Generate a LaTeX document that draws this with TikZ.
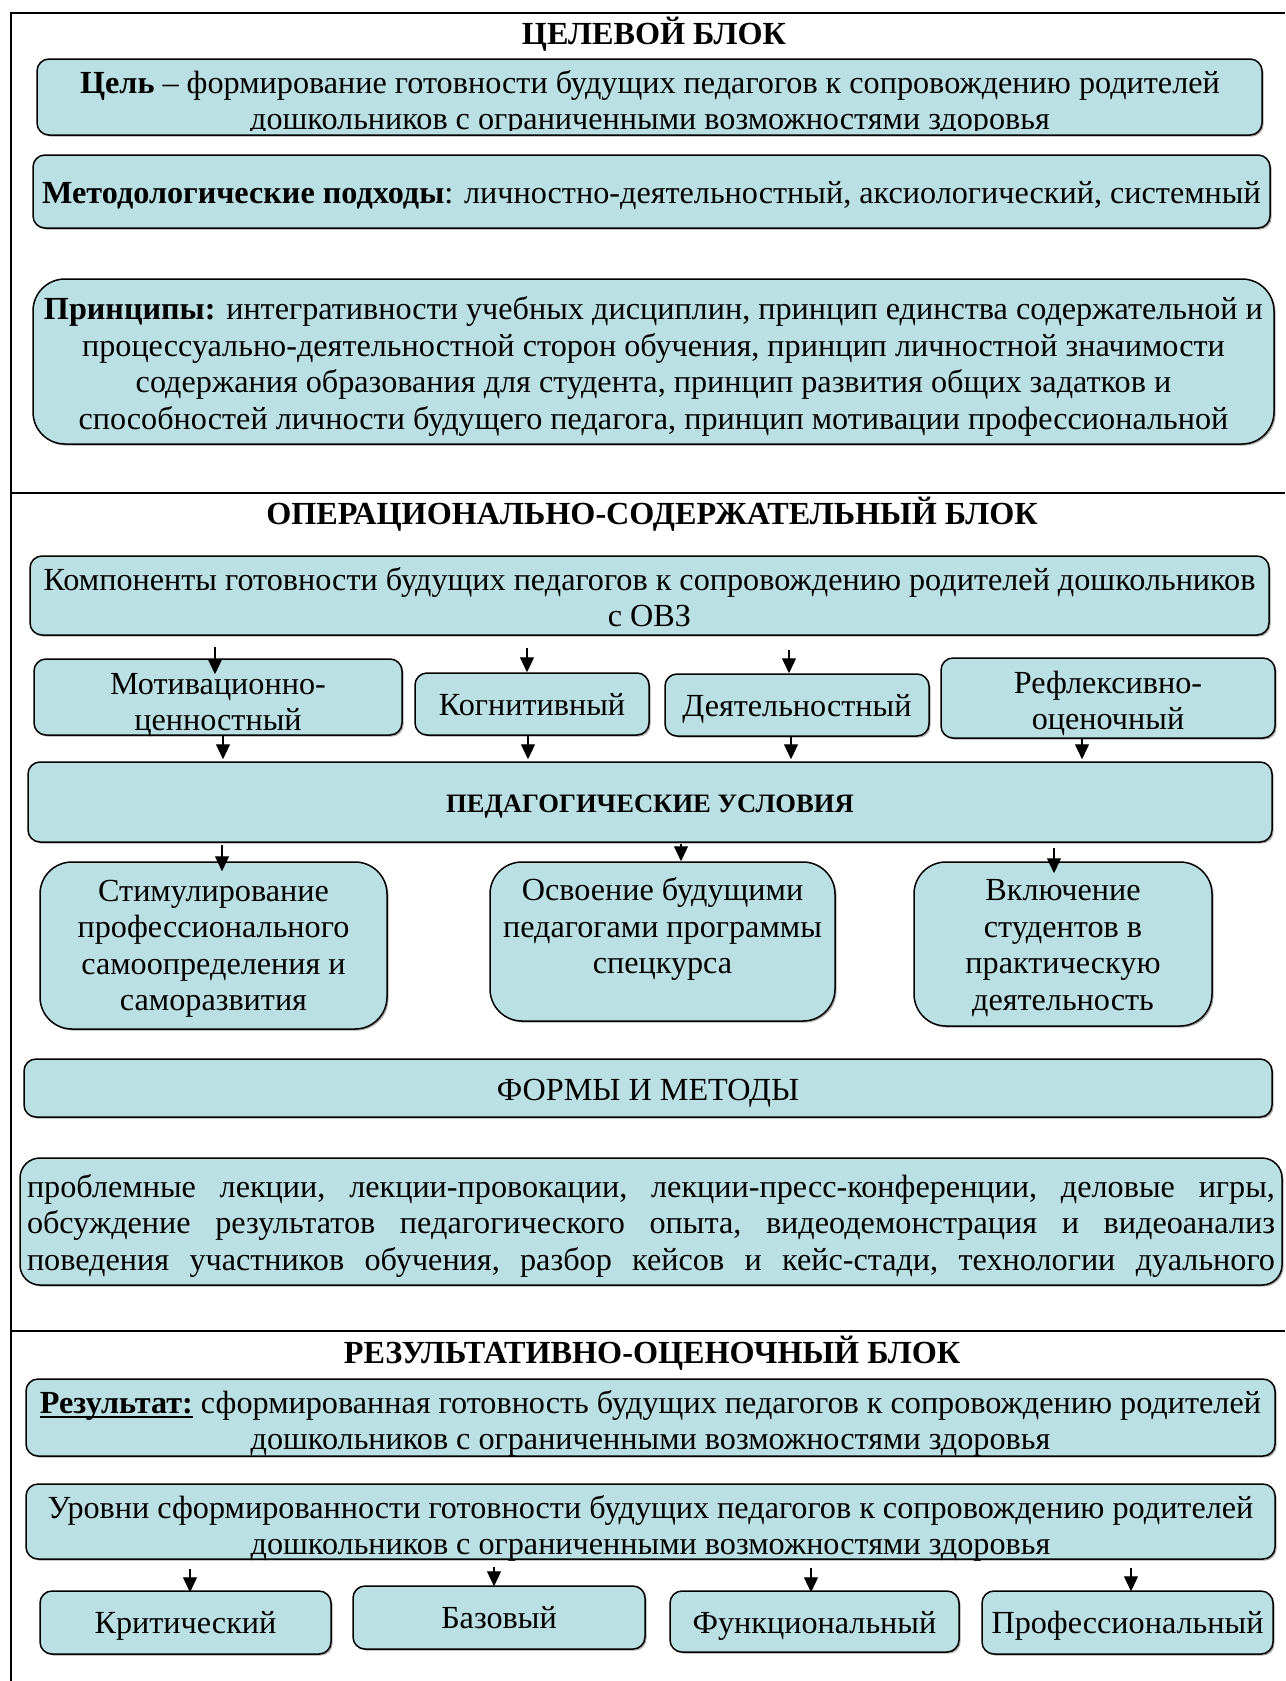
\documentclass[tikz,border=0pt]{standalone}
\usepackage{fontspec}
\setmainfont{Liberation Serif}
\usetikzlibrary{arrows.meta,shadows,backgrounds,calc}
\definecolor{boxfill}{RGB}{187,224,228}
\newcommand\jrow[1]{\hbox to 624pt{#1}}
\newcommand\thickul[1]{\setbox0\hbox{#1}\rlap{\rule[-2.6pt]{\wd0}{1.3pt}}\box0\relax}
\newcommand\tl[2][0pt]{\raisebox{\dimexpr#1-1.6pt\relax}[\height][\depth]{\begin{tabular}{@{}c@{}}#2\end{tabular}}}
\begin{document}
\begin{tikzpicture}[x=0.5pt,y=-0.5pt,
  font=\fontsize{16.1}{18.25}\selectfont,
  box/.style={draw=black, line width=0.75pt, fill=boxfill, rounded corners=6pt,
    inner sep=0pt,
    drop shadow={shadow xshift=0.8pt, shadow yshift=-0.8pt, fill=black!55, opacity=0.6}},
  span/.style args={#1,#2,#3,#4}{minimum width={(#3-#1)*0.5pt},
    minimum height={(#4-#2)*0.5pt}, at={({(#1+#3)/2},{(#2+#4)/2})}},
  bigr/.style={rounded corners=16pt},
  midr/.style={rounded corners=10pt},
  blocktitle/.style={font=\fontsize{16.1}{18.25}\selectfont\bfseries, inner sep=0pt},
  arr/.style={line width=0.6pt, -{Triangle[length=7.5pt,width=7pt]}},
  framerule/.style={line width=1.4pt}]
\fill[white] (0,0) rectangle (1285,1681);
\useasboundingbox (0,0) rectangle (1285,1681);
% frame and dividers
\draw[framerule] (11,1681) -- (11,13) -- (1285,13);
\draw[framerule] (11,493) -- (1285,493);
\draw[framerule] (11,1331) -- (1285,1331);
% titles
\node[blocktitle] (t1) at (654,34) {ЦЕЛЕВОЙ БЛОК};
\node[blocktitle] (t2) at (652,514) {ОПЕРАЦИОНАЛЬНО-СОДЕРЖАТЕЛЬНЫЙ БЛОК};
\node[blocktitle] (t3) at (652,1353) {РЕЗУЛЬТАТИВНО-ОЦЕНОЧНЫЙ БЛОК};
% target block
\node[box, span={37,59,1262,135}] (goal) {};
\begin{scope}
  \clip (goal.north west) rectangle ([yshift=2.75pt]goal.south east);
  \node[inner sep=0pt] (goaltext) at (650,101)
    {\tl{\textbf{Цель} – формирование готовности будущих педагогов к сопровождению родителей\\
     дошкольников с ограниченными возможностями здоровья}};
\end{scope}
\node[box, span={33,155,1270,228}] (meth)
  {\tl[-0.75pt]{\textbf{Методологические подходы}: личностно-деятельностный, аксиологический, системный}};
\node[box, bigr, span={33,279,1274,444}] (princ)
  {\tl[-1.2pt]{\textbf{Принципы:} интегративности учебных дисциплин, принцип единства содержательной и\\
   процессуально-деятельностной сторон обучения, принцип личностной значимости\\
   содержания образования для студента, принцип развития общих задатков и\\
   способностей личности будущего педагога, принцип мотивации профессиональной}};
% operational block
\node[box, span={30,556,1269,635}] (komp)
  {\tl[-1.2pt]{Компоненты готовности будущих педагогов к сопровождению родителей дошкольников\\ с ОВЗ}};
\node[box, span={34,659,402,735}] (mot) {\tl[-2.5pt]{Мотивационно-\\ценностный}};
\node[box, span={415,673,649,735}] (kog) {\tl[-0.6pt]{Когнитивный}};
\node[box, span={665,674,929,736}] (deyat) {\tl[-0.6pt]{Деятельностный}};
\node[box, span={941,658,1275,738}] (refl) {\tl[-1.5pt]{Рефлексивно-\\оценочный}};
\node[box, span={28,762,1272,842}] (ped)
  {\fontsize{13.3}{16}\selectfont\bfseries\tl[-0.5pt]{ПЕДАГОГИЧЕСКИЕ УСЛОВИЯ}};
\node[box, bigr, span={40,862,387,1029}] (stim)
  {\tl{Стимулирование\\профессионального\\самоопределения и\\саморазвития}};
\node[box, bigr, span={490,862,835,1021}] (osv)
  {\tl[7.4pt]{Освоение будущими\\педагогами программы\\спецкурса}};
\node[box, bigr, span={914,862,1212,1026}] (vkl)
  {\tl[-0.6pt]{Включение\\студентов в\\практическую\\деятельность}};
\node[box, span={24,1059,1272,1117}] (forms) {\tl[-0.8pt]{ФОРМЫ И МЕТОДЫ}};
\node[box, midr, span={20,1158,1282,1285}] (methods)
  {\tl[-0.75pt]{\jrow{проблемные\hfill лекции,\hfill лекции-провокации,\hfill лекции-пресс-конференции,\hfill деловые\hfill игры,}\\
   \jrow{обсуждение\hfill результатов\hfill педагогического\hfill опыта,\hfill видеодемонстрация\hfill и\hfill видеоанализ}\\
   \jrow{поведения\hfill участников\hfill обучения,\hfill разбор\hfill кейсов\hfill и\hfill кейс-стади,\hfill технологии\hfill дуального}}};
% result block
\node[box, span={26,1379,1275,1456}] (res)
  {\tl[-1.75pt]{\thickul{\textbf{Результат:}} сформированная готовность будущих педагогов к сопровождению родителей\\
   дошкольников с ограниченными возможностями здоровья}};
\node[box, span={26,1484,1275,1559}] (urov)
  {\tl[-2.25pt]{Уровни сформированности готовности будущих педагогов к сопровождению родителей\\
   дошкольников с ограниченными возможностями здоровья}};
\node[box, span={40,1591,331,1654}] (krit) {\tl[-0.4pt]{Критический}};
\node[box, span={353,1586,645,1649}] (baz) {\tl[-0.4pt]{Базовый}};
\node[box, span={670,1591,959,1652}] (funk) {\tl[-0.7pt]{Функциональный}};
\node[box, span={982,1591,1273,1654}] (prof) {\tl[-0.4pt]{Профессиональный}};
% arrow columns
\coordinate (c1) at (215,0);  \coordinate (c2) at (527,0);
\coordinate (c3) at (789,0);  \coordinate (c4) at (1078,0);
\coordinate (d1) at (223,0);  \coordinate (d2) at (528,0);
\coordinate (d3) at (791,0);  \coordinate (d4) at (1082,0);
\coordinate (e1) at (222,0);  \coordinate (e2) at (681,0);
\coordinate (e3) at (1054,0);
\coordinate (f1) at (190,0);  \coordinate (f2) at (494,0);
\coordinate (f3) at (811,0);  \coordinate (f4) at (1131,0);
% arrows
\draw[arr] ($(komp.south -| c1)+(0,11)$) -- ($(mot.north -| c1)+(0,16)$);
\draw[arr] ($(komp.south -| c2)+(0,12)$) -- (kog.north -| c2);
\draw[arr] ($(komp.south -| c3)+(0,14)$) -- (deyat.north -| c3);
\begin{scope}[on background layer]
\draw[arr] ($(komp.south -| c4)+(0,10)$) -- ($(refl.north -| c4)+(0,14)$);
\end{scope}
\draw[arr] (mot.south -| d1) -- ($(ped.north -| d1)+(0,-2)$);
\draw[arr] (kog.south -| d2) -- ($(ped.north -| d2)+(0,-2)$);
\draw[arr] (deyat.south -| d3) -- ($(ped.north -| d3)+(0,-2)$);
\draw[arr] (refl.south -| d4) -- ($(ped.north -| d4)+(0,-2)$);
\draw[arr] ($(ped.south -| e1)+(0,2)$) -- ($(stim.north -| e1)+(0,10)$);
\draw[arr] ($(ped.south -| e2)+(0,1)$) -- (osv.north -| e2);
\draw[arr] ($(ped.south -| e3)+(0,5)$) -- ($(vkl.north -| e3)+(0,12)$);
\draw[arr] ($(urov.south -| f1)+(0,9)$) -- ($(krit.north -| f1)+(0,2)$);
\draw[arr] ($(urov.south -| f2)+(0,7)$) -- ($(baz.north -| f2)+(0,1)$);
\draw[arr] ($(urov.south -| f3)+(0,8)$) -- ($(funk.north -| f3)+(0,2)$);
\draw[arr] ($(urov.south -| f4)+(0,8)$) -- ($(prof.north -| f4)+(0,1)$);
\end{tikzpicture}
\end{document}
